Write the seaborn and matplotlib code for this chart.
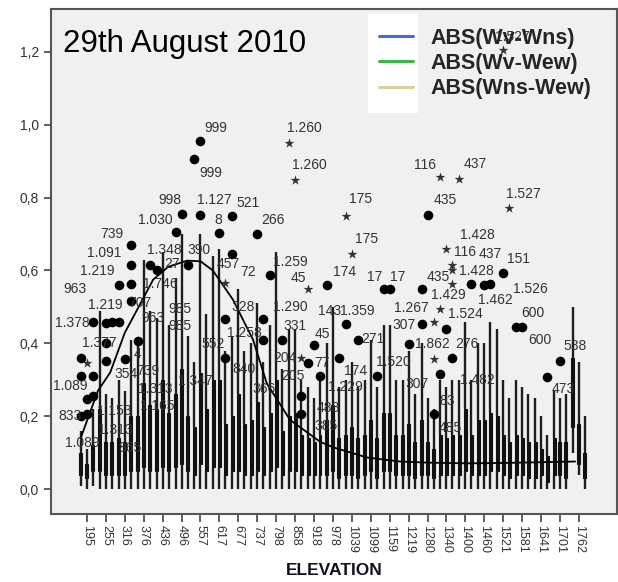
import numpy as np
import pandas as pd
import seaborn as sns
import matplotlib.pyplot as plt
from matplotlib.lines import Line2D
from matplotlib.patches import Rectangle

# categories on the x axis
elevations = [195, 255, 316, 376, 436, 496, 557, 617, 677, 737, 798, 858, 918, 978,
              1039, 1099, 1159, 1219, 1280, 1340, 1400, 1460, 1521, 1581, 1641, 1701, 1762]
series = ['ABS(Wv-Wns)', 'ABS(Wv-Wew)', 'ABS(Wns-Wew)']
series_colors = ['#4a6cc6', '#3cb54b', '#d8d09e']

# five number summaries, one value per elevation
lo_wns = [0.01, 0, 0, 0, 0, 0, 0, 0, 0, 0, 0, 0, 0, 0, 0, 0, 0, 0, 0, 0, 0, 0, 0, 0, 0, 0, 0.10]
q1_wns = [0.04, 0.05, 0.04, 0.05, 0.05, 0.06, 0.04, 0.06, 0.05, 0.04, 0.05, 0.05, 0.04, 0.04,
          0.04, 0.04, 0.05, 0.04, 0.04, 0.04, 0.04, 0.04, 0.05, 0.04, 0.03, 0.04, 0.17]
med_wns = [0.07, 0.10, 0.08, 0.10, 0.11, 0.12, 0.09, 0.13, 0.10, 0.09, 0.10, 0.10, 0.08, 0.09,
           0.08, 0.08, 0.10, 0.08, 0.09, 0.08, 0.08, 0.09, 0.10, 0.08, 0.07, 0.08, 0.25]
q3_wns = [0.10, 0.22, 0.14, 0.20, 0.22, 0.26, 0.17, 0.30, 0.20, 0.19, 0.21, 0.20, 0.14, 0.19,
          0.15, 0.15, 0.21, 0.15, 0.19, 0.15, 0.15, 0.19, 0.20, 0.15, 0.13, 0.14, 0.36]
hi_wns = [0.16, 0.49, 0.30, 0.41, 0.47, 0.58, 0.35, 0.64, 0.42, 0.40, 0.45, 0.44, 0.28, 0.40,
          0.30, 0.30, 0.45, 0.30, 0.40, 0.30, 0.30, 0.40, 0.44, 0.30, 0.25, 0.27, 0.50]

lo_wew = [0, 0, 0, 0, 0, 0, 0, 0, 0, 0, 0, 0, 0, 0, 0, 0, 0, 0, 0, 0, 0, 0, 0, 0, 0, 0, 0.04]
q1_wew = [0.03, 0.04, 0.04, 0.06, 0.06, 0.07, 0.07, 0.06, 0.05, 0.05, 0.06, 0.05, 0.04, 0.05,
          0.04, 0.05, 0.05, 0.04, 0.04, 0.04, 0.05, 0.04, 0.04, 0.04, 0.04, 0.04, 0.07]
med_wew = [0.05, 0.08, 0.08, 0.13, 0.14, 0.15, 0.15, 0.14, 0.12, 0.11, 0.14, 0.10, 0.08, 0.11,
           0.09, 0.10, 0.10, 0.09, 0.08, 0.08, 0.10, 0.09, 0.08, 0.08, 0.07, 0.08, 0.10]
q3_wew = [0.07, 0.13, 0.13, 0.29, 0.30, 0.33, 0.32, 0.30, 0.26, 0.24, 0.30, 0.21, 0.13, 0.23,
          0.17, 0.19, 0.21, 0.18, 0.13, 0.14, 0.22, 0.19, 0.15, 0.14, 0.11, 0.13, 0.18]
hi_wew = [0.11, 0.26, 0.27, 0.63, 0.65, 0.70, 0.70, 0.66, 0.55, 0.51, 0.65, 0.44, 0.25, 0.50,
          0.35, 0.41, 0.45, 0.38, 0.25, 0.28, 0.46, 0.40, 0.30, 0.28, 0.20, 0.25, 0.35]

lo_nse = [0.01, 0, 0, 0, 0, 0, 0, 0, 0, 0, 0, 0, 0, 0, 0, 0, 0, 0, 0, 0, 0, 0, 0, 0, 0, 0, 0]
q1_nse = [0.05, 0.04, 0.05, 0.05, 0.05, 0.05, 0.05, 0.04, 0.04, 0.04, 0.04, 0.04, 0.04, 0.03,
          0.03, 0.03, 0.04, 0.03, 0.03, 0.04, 0.04, 0.05, 0.03, 0.03, 0.02, 0.03, 0.03]
med_nse = [0.08, 0.08, 0.10, 0.11, 0.10, 0.10, 0.10, 0.09, 0.09, 0.08, 0.08, 0.08, 0.08, 0.07,
           0.07, 0.07, 0.08, 0.07, 0.06, 0.08, 0.08, 0.10, 0.07, 0.07, 0.05, 0.07, 0.06]
q3_nse = [0.12, 0.13, 0.20, 0.23, 0.21, 0.20, 0.22, 0.18, 0.18, 0.17, 0.16, 0.15, 0.15, 0.14,
          0.14, 0.14, 0.15, 0.13, 0.11, 0.15, 0.15, 0.21, 0.13, 0.13, 0.09, 0.13, 0.10]
hi_nse = [0.22, 0.25, 0.41, 0.49, 0.45, 0.42, 0.48, 0.38, 0.38, 0.35, 0.33, 0.30, 0.30, 0.28,
          0.28, 0.28, 0.30, 0.26, 0.22, 0.30, 0.30, 0.46, 0.25, 0.26, 0.15, 0.26, 0.20]

# outliers: elevation, series index, value, kind (o = outlier, * = extreme)
out_elev = [195, 195, 195, 195, 195, 195, 195, 195, 195,
            255, 255, 255, 255, 316, 316, 316, 316, 316, 316, 316, 376, 376,
            436, 496, 496, 496, 557, 557, 557, 617, 617, 617, 617, 677, 677,
            737, 737, 737, 798, 798, 858, 858, 858, 858, 858,
            918, 918, 918, 918, 978, 978, 1039, 1039, 1039, 1039, 1099,
            1159, 1159, 1219, 1280, 1280, 1280, 1280, 1280, 1280,
            1340, 1340, 1340, 1340, 1340, 1340, 1340, 1340, 1340,
            1400, 1400, 1460, 1460, 1521, 1521, 1521, 1581, 1581, 1641, 1701]
out_ser = [0, 0, 2, 1, 2, 0, 1, 1, 2,
           1, 2, 1, 1, 0, 1, 0, 2, 2, 2, 2, 0, 2,
           0, 0, 1, 2, 0, 1, 1, 1, 2, 2, 2, 0, 0,
           1, 2, 2, 0, 2, 0, 1, 2, 2, 2,
           0, 0, 1, 2, 0, 2, 0, 1, 0, 2, 2,
           0, 1, 1, 0, 0, 1, 2, 2, 2,
           0, 0, 0, 1, 1, 2, 2, 2, 2,
           0, 2, 1, 2, 1, 1, 2, 0, 1, 2, 1]
out_val = [0.36, 0.31, 0.31, 0.248, 0.256, 0.20, 0.207, 0.346, 0.46,
           0.455, 0.46, 0.40, 0.351, 0.46, 0.357, 0.561, 0.564, 0.515, 0.616, 0.67, 0.406, 0.616,
           0.60, 0.706, 0.755, 0.616, 0.905, 0.956, 0.752, 0.703, 0.565, 0.466, 0.36, 0.749, 0.646,
           0.70, 0.466, 0.41, 0.588, 0.41, 0.95, 0.848, 0.36, 0.256, 0.207,
           0.548, 0.346, 0.395, 0.31, 0.559, 0.36, 0.75, 0.646, 0.452, 0.41, 0.31,
           0.55, 0.55, 0.398, 0.548, 0.452, 0.752, 0.46, 0.357, 0.207,
           0.855, 0.316, 0.493, 0.66, 0.44, 0.616, 0.564, 0.36, 0.60,
           0.85, 0.564, 0.559, 0.564, 0.594, 1.204, 0.771, 0.444, 0.444, 0.308, 0.351]
out_kind = ['o', 'o', 'o', 'o', 'o', 'o', 'o', '*', 'o',
            'o', 'o', 'o', 'o', 'o', 'o', 'o', 'o', 'o', 'o', 'o', 'o', 'o',
            'o', 'o', 'o', 'o', 'o', 'o', 'o', 'o', '*', 'o', 'o', 'o', 'o',
            'o', 'o', 'o', 'o', 'o', '*', '*', '*', 'o', 'o',
            '*', 'o', 'o', 'o', 'o', 'o', '*', '*', 'o', 'o', 'o',
            'o', 'o', 'o', 'o', 'o', 'o', '*', '*', 'o',
            '*', 'o', '*', '*', 'o', '*', '*', 'o', '*',
            '*', 'o', 'o', 'o', 'o', '*', '*', 'o', 'o', 'o', 'o']

# case labels (text, elevation, value)
lbl_text = ['999', '999', '1.260', '1.260', '998', '1.127', '521', '1.030', '8', '266',
            '739', '1.091', '1.348', '390', '27', '457', '72', '1.219', '963', '1.746',
            '707', '1.219', '1.378', '963', '985', '985', '328', '1.290', '1.259', '45',
            '1.258', '331', '1.377', '4', '552', '204', '354', '739', '1.347', '840',
            '205', '77', '1.089', '1.153', '1.313', '865', '1.313', '1.165', '833', '1.089',
            '366', '143', '1.359', '45', '1.229', '488', '385', '174', '175', '175',
            '271', '174', '1.520', '17', '17', '435', '116', '437', '1.527', '1.428',
            '116', '437', '151', '435', '1.428', '1.429', '1.526', '1.462', '1.267', '307',
            '1.524', '1.862', '276', '600', '600', '538', '1.482', '307', '83', '485',
            '473', '1.527']
lbl_elev = [606, 590, 889, 905, 459, 600, 708, 412, 612, 787,
            275, 249, 443, 552, 466, 644, 708, 227, 157, 428,
            364, 252, 147, 405, 491, 491, 692, 842, 842, 867,
            698, 858, 236, 357, 596, 826, 319, 389, 539, 695,
            851, 944, 141, 281, 284, 332, 412, 418, 141, 179,
            759, 969, 1055, 944, 1017, 963, 956, 1017, 1065, 1087,
            1106, 1049, 1170, 1112, 1186, 1335, 1272, 1431, 1584, 1440,
            1399, 1479, 1571, 1313, 1434, 1345, 1606, 1495, 1227, 1205,
            1399, 1294, 1405, 1616, 1638, 1749, 1437, 1246, 1342, 1351,
            1711, 1549]
lbl_val = [0.992, 0.866, 0.992, 0.888, 0.793, 0.793, 0.785, 0.738, 0.738, 0.738,
           0.700, 0.649, 0.657, 0.657, 0.619, 0.619, 0.597, 0.599, 0.550, 0.564,
           0.510, 0.504, 0.455, 0.469, 0.493, 0.447, 0.501, 0.501, 0.624, 0.578,
           0.428, 0.447, 0.401, 0.371, 0.398, 0.360, 0.316, 0.324, 0.297, 0.330,
           0.311, 0.346, 0.283, 0.215, 0.163, 0.112, 0.275, 0.229, 0.202, 0.128,
           0.275, 0.488, 0.488, 0.425, 0.281, 0.223, 0.174, 0.597, 0.796, 0.687,
           0.411, 0.324, 0.349, 0.583, 0.583, 0.793, 0.888, 0.891, 0.809, 0.698,
           0.651, 0.646, 0.632, 0.583, 0.599, 0.534, 0.550, 0.520, 0.496, 0.450,
           0.480, 0.398, 0.398, 0.482, 0.409, 0.392, 0.300, 0.289, 0.243, 0.169,
           0.275, 1.240]

# fitted curve
curve_elev = [175, 230, 269, 316, 341, 406, 454, 514, 557, 596, 660, 724, 768, 842,
              938, 979, 1087, 1192, 1280, 1405, 1521, 1750]
curve_val = [0.14, 0.27, 0.32, 0.43, 0.47, 0.575, 0.61, 0.627, 0.625, 0.60, 0.52, 0.41,
             0.29, 0.19, 0.13, 0.115, 0.087, 0.076, 0.073, 0.071, 0.072, 0.076]

stats = {
    series[0]: [lo_wns, q1_wns, med_wns, q3_wns, hi_wns],
    series[1]: [lo_wew, q1_wew, med_wew, q3_wew, hi_wew],
    series[2]: [lo_nse, q1_nse, med_nse, q3_nse, hi_nse],
}
rows = []
for s, arrs in stats.items():
    for i, e in enumerate(elevations):
        for a in arrs:
            rows.append((str(e), s, a[i]))
df = pd.DataFrame(rows, columns=['ELEVATION', 'series', 'value'])

sns.set_style('ticks')
plt.rcParams['font.family'] = ['Liberation Sans', 'DejaVu Sans']

fig = plt.figure(figsize=(6.18, 5.82), dpi=100)
ax = fig.add_axes([0.0825, 0.1168, 0.9155, 0.8677])
ax.set_facecolor('#f0f0f0')

width = 0.95
sns.boxplot(data=df, x='ELEVATION', y='value', hue='series',
            order=[str(e) for e in elevations], hue_order=series,
            palette=['#111111'] * 3, whis=(0, 100), width=width, gap=0.5,
            linecolor='#111111', linewidth=0.8, showcaps=False, fliersize=0,
            whiskerprops={'linewidth': 1.7, 'color': '#1e1e1e'},
            medianprops={'linewidth': 0.8},
            legend=False, ax=ax)

# position helpers from the categorical scale
step = (elevations[-1] - elevations[0]) / (len(elevations) - 1)
def elev_pos(e):
    return (np.asarray(e, dtype=float) - elevations[0]) / step

out_x = np.array([elevations.index(e) for e in out_elev]) + (np.array(out_ser) - 1) * width / 3
out_v = np.asarray(out_val)
kind = np.asarray(out_kind)
sns.scatterplot(x=out_x[kind == 'o'], y=out_v[kind == 'o'], marker='o', s=48,
                color='black', edgecolor='black', linewidth=0, ax=ax, zorder=4)
sns.scatterplot(x=out_x[kind == '*'], y=out_v[kind == '*'], marker='*', s=55,
                color='#333333', edgecolor='#333333', linewidth=0, ax=ax, zorder=4)

for t, e, v in zip(lbl_text, lbl_elev, lbl_val):
    ax.text(elev_pos(e), v, t, fontsize=10, color='#333333', ha='center', va='center', zorder=5)

sns.lineplot(x=elev_pos(curve_elev), y=curve_val, color='black', linewidth=1.3,
             sort=False, ax=ax, zorder=3)

ax.set_xlim(-1.9, 28.0)
ax.set_ylim(-0.068, 1.317)
ax.set_yticks([0.0, 0.2, 0.4, 0.6, 0.8, 1.0, 1.2])
ax.set_yticklabels(['0,0', '0,2', '0,4', '0,6', '0,8', '1,0', '1,2'])
ax.set_xticks(range(len(elevations)))
ax.set_xticklabels([str(e) for e in elevations], rotation=270)
ax.tick_params(axis='y', labelsize=10, labelcolor='#333333', length=5, width=1.2, color='#444444')
ax.tick_params(axis='x', labelsize=9, labelcolor='#333333', length=6, width=1.2,
               color='#444444', pad=2)
ax.set_xlabel('ELEVATION', fontsize=12.5, fontweight='bold', color='#111122', labelpad=7)
ax.set_ylabel('')
for sp in ax.spines.values():
    sp.set_visible(True)
    sp.set_color('#555555')
    sp.set_linewidth(1.5)

ax.text(0.021, 0.915, '29th August 2010', transform=ax.transAxes, fontsize=22.5,
        va='baseline', ha='left', color='black', zorder=6)

ax.add_patch(Rectangle((0.560, 0.794), 0.088, 0.196, transform=ax.transAxes,
                       facecolor='white', edgecolor='none', zorder=1))
handles = [Line2D([0], [0], color=c, linewidth=2.2) for c in series_colors]
ax.legend(handles, series, loc='upper left', bbox_to_anchor=(0.5795, 0.963),
          frameon=False, borderpad=0, borderaxespad=0, handlelength=1.6,
          handletextpad=0.8, labelspacing=0.2,
          prop={'family': 'Liberation Sans', 'weight': 'bold', 'size': 15.5})

fig.savefig('out.png', dpi=100, facecolor='white')
